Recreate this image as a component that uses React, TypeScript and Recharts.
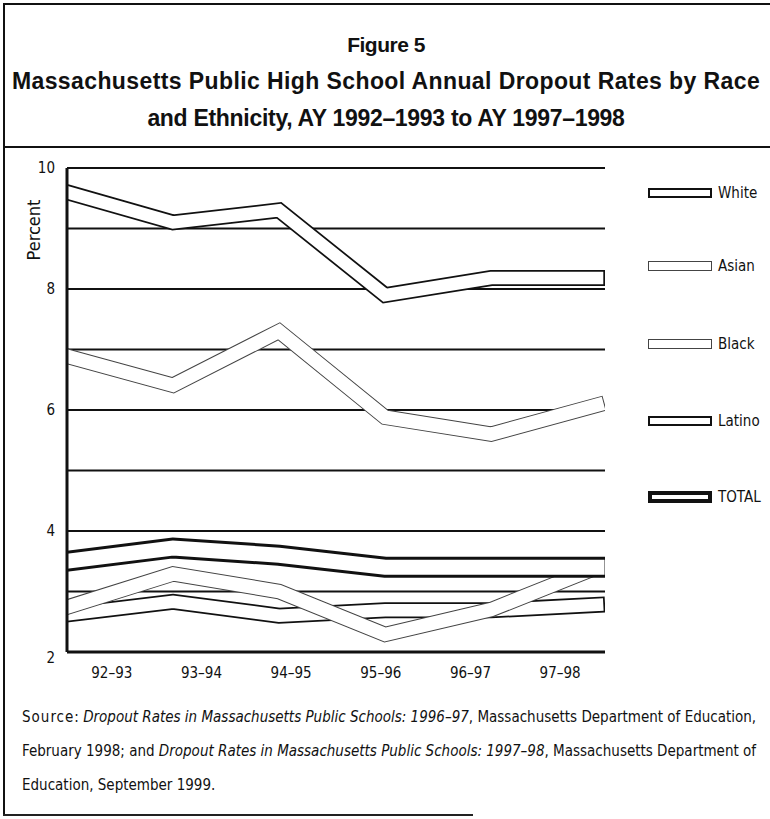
import React from 'react';
import { LineChart, Line, XAxis, YAxis, CartesianGrid } from 'recharts';

// values (percent)
const years = ['92–93', '93–94', '94–95', '95–96', '96–97', '97–98'];
const white = [2.62, 2.83, 2.6, 2.69, 2.69, 2.78];
const asian = [2.74, 3.29, 3.0, 2.29, 2.7, 3.4];
const black = [6.89, 6.41, 7.3, 5.88, 5.6, 6.08];
const latino = [9.6, 9.1, 9.3, 7.9, 8.18, 8.18];
const total = [3.5, 3.72, 3.6, 3.4, 3.4, 3.4];

const yTicks = [2, 4, 6, 8, 10];
const gridValues = [3, 4, 5, 6, 7, 8, 9, 10];
// the little upward tick marks sit a bit right of each label band (band units)
const tickMarks = [0.72, 1.72, 2.72, 3.72, 4.72, 5.72];

// a little room past the last point so the closed ribbon end fits
const xMax = 5.075;

const data = years.map((year, i) => ({
    idx: i,
    year,
    white: white[i],
    asian: asian[i],
    black: black[i],
    latino: latino[i],
    total: total[i],
}));

// drawn in this order, later ones on top
const series = [
    { key: 'white', name: 'White', outer: 16, inner: 12.5, color: '#111', border: 2 },
    { key: 'asian', name: 'Asian', outer: 15.5, inner: 13.5, color: '#444', border: 1 },
    { key: 'black', name: 'Black', outer: 15.5, inner: 13.5, color: '#444', border: 1 },
    { key: 'latino', name: 'Latino', outer: 16, inner: 12.5, color: '#111', border: 2 },
    { key: 'total', name: 'TOTAL', outer: 21, inner: 15, color: '#111', border: 4 },
];

const legendY = [193, 266, 344, 421, 497];

const narrow = '"Liberation Sans Narrow", "DejaVu Sans Condensed", "Arial Narrow", sans-serif';
const bold = '"Liberation Sans", Arial, sans-serif';

const W = 770;
const H = 700;
const margin = { top: 168, right: 165, left: 0, bottom: 0 };
const Y_AXIS_W = 67;
const X_AXIS_H = 48;

const YTick = (props: any) => {
    const { x, y, payload } = props;
    // the "2" sits a little below the axis in the original
    const shift = payload.value === 2 ? 6 : 0;
    return (
        <text x={x} y={y + shift} dy="0.355em" textAnchor="end" fill="#111" fontSize={15} fontFamily={narrow}>
            {payload.value}
        </text>
    );
};

const NoLabel = () => null;

export default function App() {
    return (
        <div style={{ position: 'absolute', left: 0, top: 0, width: 770, height: 819, background: '#fff', overflow: 'hidden' }}>
            {/* frame */}
            <div style={{ position: 'absolute', left: 3, top: 3, width: 767, height: 2, background: '#111' }} />
            <div style={{ position: 'absolute', left: 3, top: 3, width: 2, height: 813, background: '#111' }} />
            <div style={{ position: 'absolute', left: 3, top: 146, width: 767, height: 2, background: '#111' }} />
            <div style={{ position: 'absolute', left: 3, top: 814, width: 470, height: 2, background: '#222' }} />

            <div style={{ position: 'absolute', left: 0, top: 26, width: 772, textAlign: 'center', fontFamily: bold, fontWeight: 'bold', fontSize: 23, lineHeight: '37px', color: '#111' }}>
                <div style={{ fontSize: 21, letterSpacing: -0.5 }}>Figure 5</div>
                <div style={{ whiteSpace: 'nowrap', letterSpacing: 0.4 }}>Massachusetts Public High School Annual Dropout Rates by Race</div>
                <div style={{ whiteSpace: 'nowrap', letterSpacing: -0.3 }}>and Ethnicity, AY 1992–1993 to AY 1997–1998</div>
            </div>

            <div style={{ position: 'absolute', left: 0, top: 0 }}>
                <LineChart width={W} height={H} data={data} margin={margin}>
                    <CartesianGrid xAxisId="data" vertical={false} horizontalValues={gridValues} stroke="#111" strokeWidth={2} />
                    <XAxis xAxisId="data" dataKey="idx" type="number" domain={[0, xMax]} allowDataOverflow hide />
                    <XAxis
                        xAxisId="cat"
                        dataKey="year"
                        type="category"
                        scale="band"
                        height={X_AXIS_H}
                        interval={0}
                        axisLine={{ stroke: '#111', strokeWidth: 3 }}
                        tickLine={false}
                        tickSize={6}
                        tickMargin={9}
                        tick={{ fill: '#111', fontSize: 15, fontFamily: narrow }}
                    />
                    <YAxis
                        type="number"
                        domain={[2, 10]}
                        ticks={yTicks}
                        width={Y_AXIS_W}
                        axisLine={{ stroke: '#111', strokeWidth: 3 }}
                        tickLine={false}
                        tickMargin={6}
                        tick={<YTick />}
                    />
                    {series.flatMap((s) => [
                        <Line
                            key={s.key + '-edge'}
                            xAxisId="data"
                            type="linear"
                            dataKey={s.key}
                            stroke={s.color}
                            strokeWidth={s.outer}
                            strokeLinecap="square"
                            strokeLinejoin="miter"
                            dot={false}
                            activeDot={false}
                            legendType="none"
                            isAnimationActive={false}
                        />,
                        <Line
                            key={s.key + '-fill'}
                            xAxisId="data"
                            type="linear"
                            dataKey={s.key}
                            stroke="#fff"
                            strokeWidth={s.inner}
                            strokeLinecap="square"
                            strokeLinejoin="miter"
                            dot={false}
                            activeDot={false}
                            legendType="none"
                            isAnimationActive={false}
                        />,
                    ])}
                </LineChart>
            </div>

            {/* upward tick marks on the x axis, same plot box as the chart above */}
            <div style={{ position: 'absolute', left: 0, top: 0, pointerEvents: 'none' }}>
                <LineChart
                    width={W}
                    height={H}
                    data={data}
                    margin={{ top: margin.top, right: margin.right, left: margin.left + Y_AXIS_W, bottom: margin.bottom + X_AXIS_H }}
                >
                    <XAxis
                        dataKey="idx"
                        type="number"
                        domain={[0, years.length]}
                        ticks={tickMarks}
                        allowDataOverflow
                        mirror
                        height={0}
                        axisLine={false}
                        tickLine={{ stroke: '#111', strokeWidth: 3 }}
                        tickSize={13}
                        tick={<NoLabel />}
                    />
                    <YAxis type="number" domain={[2, 10]} hide />
                </LineChart>
            </div>

            <div style={{ position: 'absolute', left: 33, top: 230, transform: 'translate(-50%, -50%) rotate(-90deg)', fontFamily: narrow, fontSize: 18, color: '#111', whiteSpace: 'nowrap' }}>
                Percent
            </div>

            {series.map((s, i) => (
                <React.Fragment key={s.key}>
                    <div
                        style={{
                            position: 'absolute',
                            left: 648,
                            top: legendY[i] - (s.key === 'total' ? 6 : 5),
                            width: 64,
                            height: s.key === 'total' ? 12 : 10,
                            boxSizing: 'border-box',
                            border: `${s.border}px solid ${s.color}`,
                            background: '#fff',
                        }}
                    />
                    <div style={{ position: 'absolute', left: 718, top: legendY[i] - 10, lineHeight: '20px', fontFamily: narrow, fontSize: 15, color: '#111' }}>
                        {s.name}
                    </div>
                </React.Fragment>
            ))}

            <div style={{ position: 'absolute', left: 22, top: 700, fontFamily: narrow, fontSize: 15, lineHeight: '34px', color: '#111', whiteSpace: 'nowrap' }}>
                <div>
                    <span style={{ letterSpacing: 1 }}>Source</span>: <i>Dropout Rates in Massachusetts Public Schools: 1996–97</i>, Massachusetts Department of Education,
                </div>
                <div>
                    February 1998; and <i>Dropout Rates in Massachusetts Public Schools: 1997–98</i>, Massachusetts Department of
                </div>
                <div>Education, September 1999.</div>
            </div>
        </div>
    );
}
